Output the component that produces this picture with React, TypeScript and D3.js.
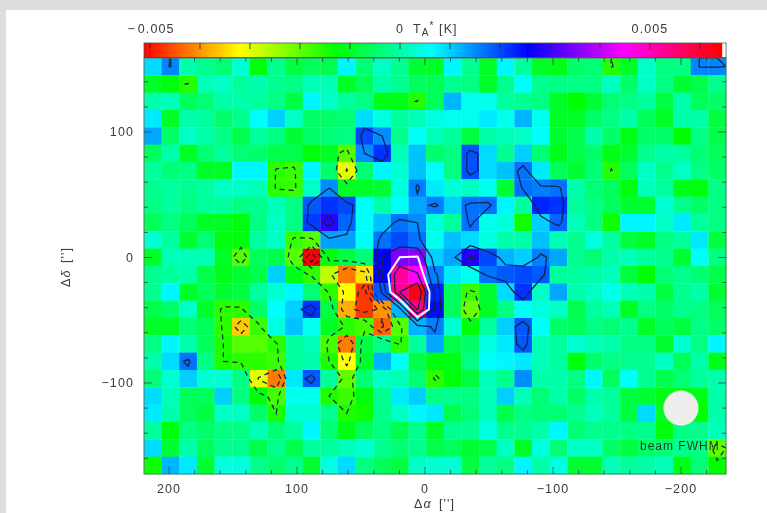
import React from "react";
import * as d3 from "d3";

// antenna temperature per map cell in mK, top row first, columns from +220'' to -235''
const rows = [
  [0.9, 1.55, 0.0, -0.2, -0.4, 0.3, -1.2, -0.2, -0.8, -0.6, -0.7, 0.7, -0.4, 0.2, -0.2, -0.9, -1.0, 0.7, -0.2, -1.0, 0.7, -0.1, -1.0, -1.1, -0.5, -0.4, -1.55, -1.0, 0.2, -0.3, -0.3, 1.55, 1.55],
  [-1.0, -1.2, -1.55, 0.1, 0.2, -0.1, 0.0, -0.2, -0.3, 0.1, 0.1, -1.0, -0.6, 0.0, -0.2, -0.6, -0.6, -0.2, -0.3, -1.0, -0.2, 0.6, -0.2, -0.3, -0.3, -0.3, 0.2, -0.5, 0.2, -0.3, -0.9, -0.7, -0.2],
  [0.0, 0.1, -0.6, -0.4, 0.0, 0.0, -0.1, -0.3, -0.8, 0.7, 0.2, -0.1, -0.3, -1.1, -1.1, -1.55, -0.6, 1.2, 0.5, 0.5, -0.1, -0.2, -0.3, -1.0, -1.3, -0.9, -0.4, -0.3, -0.1, -0.8, 0.0, -0.6, -0.5],
  [0.8, -1.0, 0.0, -0.1, -0.5, -0.2, 0.6, 1.0, 0.2, -0.5, -0.5, -0.4, 0.9, 0.4, -0.1, 0.1, 0.4, 0.5, 0.5, 0.8, 0.5, 1.2, 0.5, -1.0, -1.0, -0.5, -0.3, 0.0, -0.6, -1.0, 0.0, 0.0, -0.8],
  [1.3, -0.5, 0.2, 0.0, -0.3, -0.7, -0.1, -0.3, -0.9, -0.5, -0.4, -0.3, 2.0, 1.5, -0.2, 0.6, 0.1, -0.1, -0.8, 0.0, 0.1, 0.2, 0.6, -0.9, -0.7, 0.0, -0.5, -1.1, -0.5, -0.5, -1.3, -0.3, -0.7],
  [-0.6, 0.0, -1.0, -0.4, -0.1, -0.4, -0.5, -0.7, -0.7, -1.2, -1.0, -1.9, 1.5, 2.2, 0.1, 1.1, -0.5, -0.3, 1.95, 0.9, -0.2, 1.0, -0.4, -1.1, -0.7, -0.5, -1.1, -0.9, -0.2, 0.0, -0.1, -0.4, -0.6],
  [-0.1, -0.4, -0.3, -1.0, -1.0, 0.7, 0.7, -1.6, -1.7, 0.7, -0.5, -3.0, -0.4, 0.7, 0.3, 1.1, 0.6, -0.3, 1.95, 0.9, 1.1, 1.7, 0.8, -0.6, -0.9, -0.4, -1.55, -0.6, 0.2, -0.2, 0.2, -0.3, -0.5],
  [-0.2, -0.1, -0.2, -0.1, 0.2, 0.2, 0.1, -1.6, -1.7, 0.2, 1.5, -1.0, -1.0, -0.9, 0.4, 1.6, 0.8, 0.3, 0.2, 0.5, -0.9, 1.7, 1.6, 1.7, 0.0, -0.4, -0.6, -1.2, 0.1, -0.1, -1.1, -1.2, -0.3],
  [-0.3, -0.1, -0.3, -0.1, -0.1, -0.3, -0.2, 0.1, -0.3, 1.9, 2.2, 2.0, 0.6, 0.0, 0.6, 1.3, 1.6, 1.0, 1.7, 1.7, 0.7, -0.1, 2.3, 2.2, -0.1, -0.3, -0.6, -0.9, -0.9, 0.3, -0.2, -0.5, -0.3],
  [-0.6, -0.3, -0.6, -1.0, -1.0, -1.2, -0.3, 0.2, -0.3, 2.1, 2.9, 1.8, 0.6, 1.1, 1.7, 1.5, 0.4, -0.1, 1.7, 0.5, 0.4, -1.4, 1.0, 1.8, 0.1, -0.3, -1.4, 0.7, 0.7, 0.2, 0.8, -0.1, -0.3],
  [0.3, -0.1, -0.9, -0.4, -1.2, -1.2, -0.1, 0.2, -1.7, -1.9, 1.35, 1.35, 0.6, 1.7, 2.0, 1.7, 0.5, 1.1, 0.9, 0.4, 0.0, 0.0, 1.1, 0.1, -0.2, 0.4, -0.1, -0.8, -1.0, -0.3, -0.1, 0.8, -0.8],
  [-1.0, 0.1, 0.1, 0.1, -1.0, -1.9, -0.6, -0.7, -1.9, -5.1, -1.2, -0.8, -0.4, 2.6, 3.5, 3.6, 1.0, 1.3, 2.8, 2.0, 1.2, 1.0, 1.6, 1.3, -0.2, -0.4, 0.0, 0.1, -0.1, -0.2, -0.9, 0.6, -0.3],
  [-0.2, -0.1, 0.0, -0.7, -1.1, -0.9, -0.7, 1.0, -1.1, -1.6, -2.7, -4.2, -3.4, 2.6, 5.2, 4.5, 1.6, 0.8, 0.5, 1.7, 1.9, 2.0, 1.9, -0.1, -0.1, 0.0, 0.1, -0.8, -1.3, -0.4, -0.2, -0.4, -0.7],
  [-0.2, 0.7, -1.0, -0.6, -0.9, -0.8, -0.1, 0.3, 0.7, -0.4, -1.6, -3.2, -4.7, 1.9, 5.3, 6.2, 2.3, -0.6, -1.7, -0.9, 0.9, 2.2, 0.2, 1.3, 0.0, 0.2, 0.5, 0.1, 0.0, -0.8, -0.2, 0.0, -0.9],
  [-0.7, -0.5, 0.2, -1.0, -1.6, -1.6, -0.5, 0.6, 1.0, 2.2, -0.8, -3.8, -4.7, -4.0, 1.2, 5.4, 2.5, -0.6, -2.1, -1.0, -0.3, 0.6, 0.4, 0.2, -0.7, -0.1, 0.1, -1.0, -0.3, -0.5, -0.2, -0.3, -0.6],
  [-1.0, -1.0, -0.4, -0.6, -1.6, -3.6, -1.7, 0.4, 1.1, 0.5, -1.0, -1.6, -1.8, -4.4, -1.9, 1.2, 1.6, 0.3, -1.2, -0.1, 1.0, 1.9, 0.6, -0.5, -0.6, -0.3, -0.4, -0.2, -1.0, -0.6, -0.8, -0.3, -0.5],
  [-0.3, 0.7, 0.0, -0.6, -1.5, -1.9, -1.9, -1.6, -0.1, 0.1, -1.8, -4.2, -0.8, -0.3, -1.6, -0.1, 1.3, -0.7, -0.5, 0.4, 0.8, 1.9, 0.1, -0.1, 0.3, 0.1, 0.0, -0.3, -0.3, -0.9, 0.3, -0.3, 0.7],
  [0.0, 0.9, 1.7, -0.3, -1.5, -1.6, -1.6, -1.7, -0.1, 0.0, -1.5, -3.2, -1.0, 1.2, 0.6, -0.7, -1.2, -1.1, -0.3, 0.6, 0.7, 0.8, 0.1, -0.1, -1.2, -0.5, -0.3, -0.2, -0.2, 0.2, -0.6, 0.0, -1.1],
  [-0.4, 0.3, 1.0, 0.3, 0.3, -0.3, -3.0, -4.2, 0.8, 1.9, -0.1, -2.0, -0.4, 0.2, 0.1, -0.4, -1.6, -1.2, -0.8, 0.1, -0.2, 1.5, 0.0, 0.0, -0.3, 0.7, -0.6, 0.6, -0.2, -0.7, -0.4, -0.1, 0.0],
  [0.9, 0.1, -0.6, -0.6, 1.0, -0.3, -1.2, -1.8, 0.5, 0.5, -1.5, -1.7, -1.2, -0.2, 0.8, 1.0, -0.3, -0.2, -0.3, 0.1, 1.0, 0.1, -0.4, 0.0, -0.5, 0.0, -0.1, -0.8, -0.9, -1.1, -1.1, -1.1, 0.0],
  [0.8, 0.0, -0.6, -0.8, 0.2, 0.2, -0.5, -1.5, 0.3, 0.3, -0.2, -1.5, -1.4, -0.2, 0.2, 0.7, 0.8, -0.7, -0.4, 0.1, -0.7, -0.3, -0.4, -0.4, -0.2, 0.1, -0.1, -0.8, 0.9, -1.0, -1.2, -1.3, 0.0],
  [-0.1, -1.2, -0.3, -0.5, -0.3, -0.3, 0.1, -0.4, -0.1, 0.7, -0.4, -1.1, -0.6, -0.3, -0.7, -0.2, -1.0, -0.2, -0.2, 0.4, -0.2, -0.2, 0.0, 0.7, -0.4, -0.2, -0.2, -0.3, -0.2, -1.2, -0.3, -0.2, 0.1],
  [0.9, -0.9, 0.0, -0.6, -0.2, -0.2, -0.7, -0.2, -0.7, -0.1, -0.1, 0.1, 0.3, -0.2, -0.4, -0.2, -0.7, -0.6, -0.9, -0.7, 0.2, -1.0, 0.4, -0.4, 0.2, 0.2, -0.5, -0.8, -0.5, -0.4, -0.2, -0.3, -2.0],
  [-1.4, 1.2, 0.8, -0.9, 0.4, 0.4, -0.2, -0.5, -0.2, -0.9, 0.4, 0.9, -0.3, -0.6, -0.8, 0.2, 0.3, 0.3, -0.8, -0.1, -0.3, 0.7, 0.0, 0.4, -0.9, -0.9, 0.1, -0.1, 0.0, 0.1, -1.1, -0.4, -1.3],
];

const xMajor = [200, 100, 0, -100, -200];
const yMajor = [100, 0, -100];
const barTicks = [-5, -4, -3, -2, -1, 0, 1, 2, 3, 4, 5, 6];
const positiveLevels = [1.5, 2.6, 4.4, 5.3];
const whiteLevel = 3.5;
const negativeLevels = [1.5, 2.9, 4.2];
const colorStops = [-5.12, -3.2, -1.28, 0.64, 2.56, 4.48, 6.4];
const colorRange = ["#ff0000", "#ffff00", "#00ff00", "#00ffff", "#0000ff", "#ff00ff", "#ff0000"];
const beam = { ra: -200, dec: -120, fwhm: 27.4 };

const left = 144;
const right = 726;
const top = 58;
const bottom = 474;
const font = "'Liberation Sans', Arial, sans-serif";
const textColor = "#3a3a3a";
const lineColor = "#14204a";

const nx = rows[0].length;
const ny = rows.length;
const flat = rows.flat();

const x = d3.scaleLinear().domain([200, -200]).range([169, 681]);
const y = d3.scaleLinear().domain([100, -100]).range([132, 383]);
const barX = d3.scaleLinear().domain([-5, 5]).range([150, 650]);
const cellX = d3.scaleBand<number>().domain(d3.range(nx)).range([left, right]);
const cellY = d3.scaleBand<number>().domain(d3.range(ny)).range([top, bottom]);
const gridX = d3.scaleLinear().domain([0, nx]).range([left, right]);
const gridY = d3.scaleLinear().domain([0, ny]).range([top, bottom]);
const color = d3.scaleLinear<string>().domain(colorStops).range(colorRange).clamp(true);

const path = d3.geoPath(
  d3.geoTransform({
    point(px, py) {
      this.stream.point(gridX(px), gridY(py));
    },
  })
);
const contour = d3.contours().size([nx, ny]).smooth(true);
const contourPath = (values: number[], level: number) =>
  path(contour.contour(values, level) as any) || "";
const negated = flat.map((v) => -v);

const xTicks = d3.range(-220, 221, 20).filter((d) => x(d) > left && x(d) < right);
const yTicks = d3.range(-160, 161, 20).filter((d) => y(d) > top && y(d) < bottom);
const barStrip = d3.range(left, 722);

const tickText = { fontFamily: font, fontSize: 12.5, letterSpacing: 1.1, fill: textColor };

export default function App() {
  return (
    <svg
      width={767}
      height={513}
      style={{ position: "absolute", left: 0, top: 0, display: "block" }}
    >
      <defs>
        <clipPath id="plot">
          <rect x={left} y={top} width={right - left} height={bottom - top} />
        </clipPath>
        <filter id="soft" filterUnits="userSpaceOnUse" x="0" y="0" width="767" height="513">
          <feGaussianBlur stdDeviation="0.7" />
        </filter>
      </defs>
      <rect width={767} height={513} fill="#dcdcdc" />
      <rect x={6} y={10} width={761} height={503} fill="#ffffff" />
      <g filter="url(#soft)">
        {/* colour bar */}
        {barStrip.map((px) => (
          <rect key={px} x={px} y={43} width={1.2} height={15} fill={color(barX.invert(px + 0.5))} />
        ))}
        <rect x={left} y={43} width={right - left} height={15} fill="none" stroke="#555" strokeWidth={0.8} />
        <line x1={left} x2={right} y1={58} y2={58} stroke="#111" strokeWidth={1.2} />
        {barTicks.map((d) => (
          <line key={d} x1={barX(d)} x2={barX(d)} y1={43} y2={49} stroke="#222" strokeWidth={0.8} />
        ))}
        <text x={151} y={33} textAnchor="middle" {...tickText}>
          {"\u2212"}
          <tspan dx={2}>0.005</tspan>
        </text>
        <text x={barX(5)} y={33} textAnchor="middle" {...tickText}>0.005</text>
        <text x={barX(0)} y={33} textAnchor="middle" {...tickText}>0</text>
        <text x={413} y={33} {...tickText}>
          T<tspan dy={3} fontSize={10}>A</tspan>
          <tspan dy={-7} fontSize={10}>*</tspan>
          <tspan dy={4}> [K]</tspan>
        </text>

        {/* map cells */}
        {rows.map((row, j) =>
          row.map((v, i) => (
            <rect
              key={`${i}-${j}`}
              x={cellX(i)}
              y={cellY(j)}
              width={cellX.bandwidth() + 0.3}
              height={cellY.bandwidth() + 0.3}
              fill={color(v)}
            />
          ))
        )}

        {/* contours */}
        <g clipPath="url(#plot)" fill="none">
          {negativeLevels.map((l) => (
            <path key={l} d={contourPath(negated, l)} stroke={lineColor} strokeWidth={1.25} strokeDasharray="5 4" />
          ))}
          {positiveLevels.map((l) => (
            <path key={l} d={contourPath(flat, l)} stroke={lineColor} strokeWidth={1.25} />
          ))}
          <path d={contourPath(flat, whiteLevel)} stroke="#ffffff" strokeWidth={2} />
        </g>

        {/* beam */}
        <circle cx={x(beam.ra)} cy={y(beam.dec)} r={Math.abs(x(beam.fwhm) - x(0)) / 2} fill="#eeeeee" />
        <text x={640} y={450} fontFamily={font} fontSize={12} letterSpacing={1} fill="#1c3a2c">
          beam FWHM
        </text>

        {/* frame and ticks */}
        <rect x={left} y={top} width={right - left} height={bottom - top} fill="none" stroke="#5f7468" strokeWidth={1} />
        {xTicks.map((d) => {
          const len = d % 100 === 0 ? 7 : 4;
          return (
            <g key={d} stroke="#33443c" strokeWidth={0.8}>
              <line x1={x(d)} x2={x(d)} y1={bottom} y2={bottom - len} />
              <line x1={x(d)} x2={x(d)} y1={top} y2={top + len} />
            </g>
          );
        })}
        {yTicks.map((d) => {
          const len = d % 100 === 0 ? 8 : 4;
          return (
            <g key={d} stroke="#33443c" strokeWidth={0.8}>
              <line x1={left} x2={left + len} y1={y(d)} y2={y(d)} />
              <line x1={right} x2={right - len} y1={y(d)} y2={y(d)} />
            </g>
          );
        })}
        {xMajor.map((d) => (
          <text key={d} x={x(d)} y={493} textAnchor="middle" {...tickText}>
            {d < 0 ? `\u2212${-d}` : d}
          </text>
        ))}
        {yMajor.map((d) => (
          <text key={d} x={134} y={y(d) + 4} textAnchor="end" {...tickText}>
            {d < 0 ? `\u2212${-d}` : d}
          </text>
        ))}
        <text x={414} y={508} {...tickText}>
          {"\u0394"}
          <tspan fontStyle="italic">{"\u03b1"}</tspan>
          <tspan x={439}>['']</tspan>
        </text>
        <text transform="translate(70,287) rotate(-90)" {...tickText}>
          {"\u0394"}
          <tspan fontStyle="italic">{"\u03b4"}</tspan>
          <tspan x={24}>['']</tspan>
        </text>
      </g>
    </svg>
  );
}
